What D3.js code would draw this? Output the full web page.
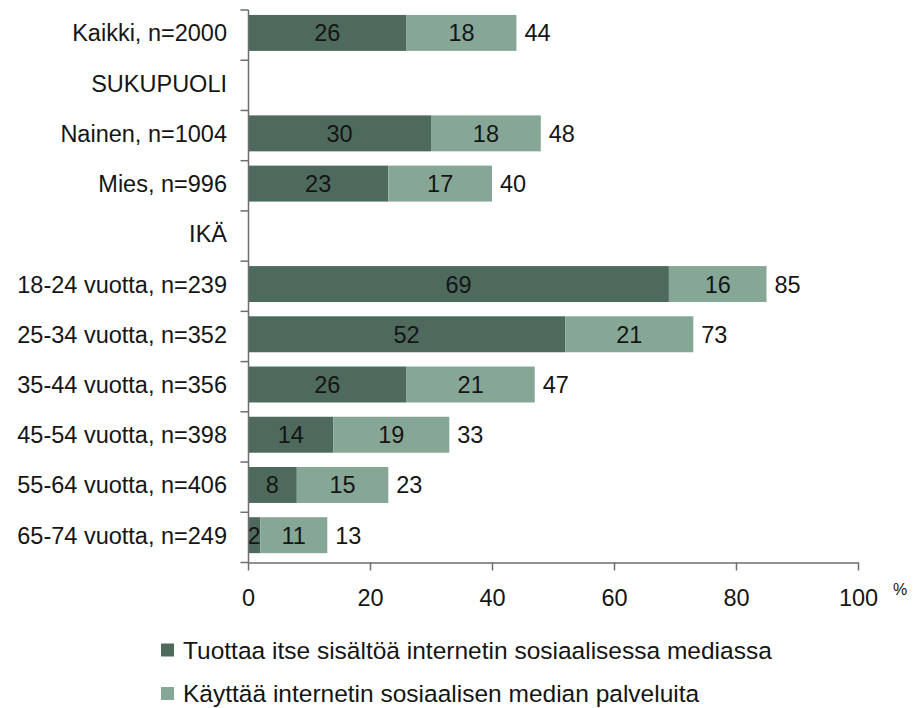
<!DOCTYPE html>
<html>
<head>
<meta charset="utf-8">
<script src="https://cdn.jsdelivr.net/npm/d3@7"></script>
<style>
  html, body { margin: 0; padding: 0; background: #fff; }
  svg { display: block; font-family: Arial, "Liberation Sans", sans-serif; }
</style>
</head>
<body>
<svg id="chart" width="916" height="708"></svg>
<script>
// Category rows (heading rows have no values)
const categories = [
  "Kaikki, n=2000",
  "SUKUPUOLI",
  "Nainen, n=1004",
  "Mies, n=996",
  "IKÄ",
  "18-24 vuotta, n=239",
  "25-34 vuotta, n=352",
  "35-44 vuotta, n=356",
  "45-54 vuotta, n=398",
  "55-64 vuotta, n=406",
  "65-74 vuotta, n=249"
];
// Produces own content in social media
const producesContent = [26, null, 30, 23, null, 69, 52, 26, 14, 8, 2];
// Uses social media services only
const usesServices = [18, null, 18, 17, null, 16, 21, 21, 19, 15, 11];
// Totals shown after each bar
const totals = [44, null, 48, 40, null, 85, 73, 47, 33, 23, 13];
const xTicks = [0, 20, 40, 60, 80, 100];
const seriesNames = [
  "Tuottaa itse sisältöä internetin sosiaalisessa mediassa",
  "Käyttää internetin sosiaalisen median palveluita"
];
const colors = ["#4e6a5d", "#87a796"];

const svg = d3.select("#chart");
const W = 916;
const plotTop = 10, plotBottom = 562.5;
const plotLeft = 248, plotRight = 858;

const x = d3.scaleLinear().domain([0, 100]).range([plotLeft, plotRight]);
const y = d3.scaleBand().domain(categories).range([plotTop, plotBottom])
  .paddingInner(0.284).paddingOuter(0.142);
const barShift = -2.2; // bars sit slightly above the band centre

const fontSize = 23.5;
const textColor = "#151515";
const axisColor = "#6e6e6e";

const rows = categories.map((c, i) => ({
  cat: c, a: producesContent[i], b: usesServices[i], t: totals[i]
})).filter(d => d.a != null);

// Stacked segments and their value labels
const g = svg.append("g");
rows.forEach(d => {
  const yy = y(d.cat) + barShift, h = y.bandwidth();
  g.append("rect").attr("x", x(0)).attr("y", yy).attr("width", x(d.a) - x(0)).attr("height", h).attr("fill", colors[0]);
  g.append("rect").attr("x", x(d.a)).attr("y", yy).attr("width", x(d.a + d.b) - x(d.a)).attr("height", h).attr("fill", colors[1]);
  const cy = yy + h / 2;
  g.append("text").attr("x", (x(0) + x(d.a)) / 2).attr("y", cy).attr("dy", "0.36em")
    .attr("text-anchor", "middle").attr("font-size", fontSize).attr("fill", textColor).text(d.a);
  g.append("text").attr("x", (x(d.a) + x(d.a + d.b)) / 2).attr("y", cy).attr("dy", "0.36em")
    .attr("text-anchor", "middle").attr("font-size", fontSize).attr("fill", textColor).text(d.b);
  g.append("text").attr("x", x(d.t) + 8).attr("y", cy).attr("dy", "0.36em")
    .attr("text-anchor", "start").attr("font-size", fontSize).attr("fill", textColor).text(d.t);
});

// Y axis: line with ticks at row boundaries
const x0 = Math.round(x(0)) + 0.5;
svg.append("line").attr("x1", x0).attr("x2", x0).attr("y1", plotTop).attr("y2", plotBottom)
  .attr("stroke", axisColor).attr("stroke-width", 1.5);
const step = y.step();
for (let i = 0; i <= categories.length; i++) {
  const yy = plotTop + i * step;
  svg.append("line").attr("x1", x0 - 8).attr("x2", x0).attr("y1", yy).attr("y2", yy)
    .attr("stroke", axisColor).attr("stroke-width", 1.5);
}
// Category labels
svg.append("g").selectAll("text").data(categories).join("text")
  .attr("x", x(0) - 21).attr("y", d => y(d) + barShift + y.bandwidth() / 2).attr("dy", "0.36em")
  .attr("text-anchor", "end").attr("font-size", fontSize).attr("fill", textColor).text(d => d);

// X axis
const xAxis = d3.axisBottom(x).tickValues(xTicks).tickSize(8).tickPadding(19).tickSizeOuter(0);
const xg = svg.append("g").attr("transform", `translate(0,${plotBottom})`).call(xAxis);
xg.select(".domain").attr("stroke", axisColor).attr("stroke-width", 1.5);
xg.selectAll(".tick line").attr("stroke", axisColor).attr("stroke-width", 1.5);
xg.selectAll(".tick text").attr("font-size", fontSize).attr("fill", textColor)
  .attr("font-family", "Arial, 'Liberation Sans', sans-serif");
svg.append("text").attr("x", 893).attr("y", 595).attr("font-size", 16).attr("fill", textColor).text("%");

// Legend
const legend = svg.append("g");
seriesNames.forEach((name, i) => {
  const ly = 650 + i * 43.5;
  legend.append("rect").attr("x", 161).attr("y", ly - 6.5).attr("width", 13).attr("height", 13).attr("fill", colors[i]);
  legend.append("text").attr("x", 183).attr("y", ly).attr("dy", "0.36em")
    .attr("font-size", 24.5).attr("fill", textColor).text(name);
});
</script>
</body>
</html>
